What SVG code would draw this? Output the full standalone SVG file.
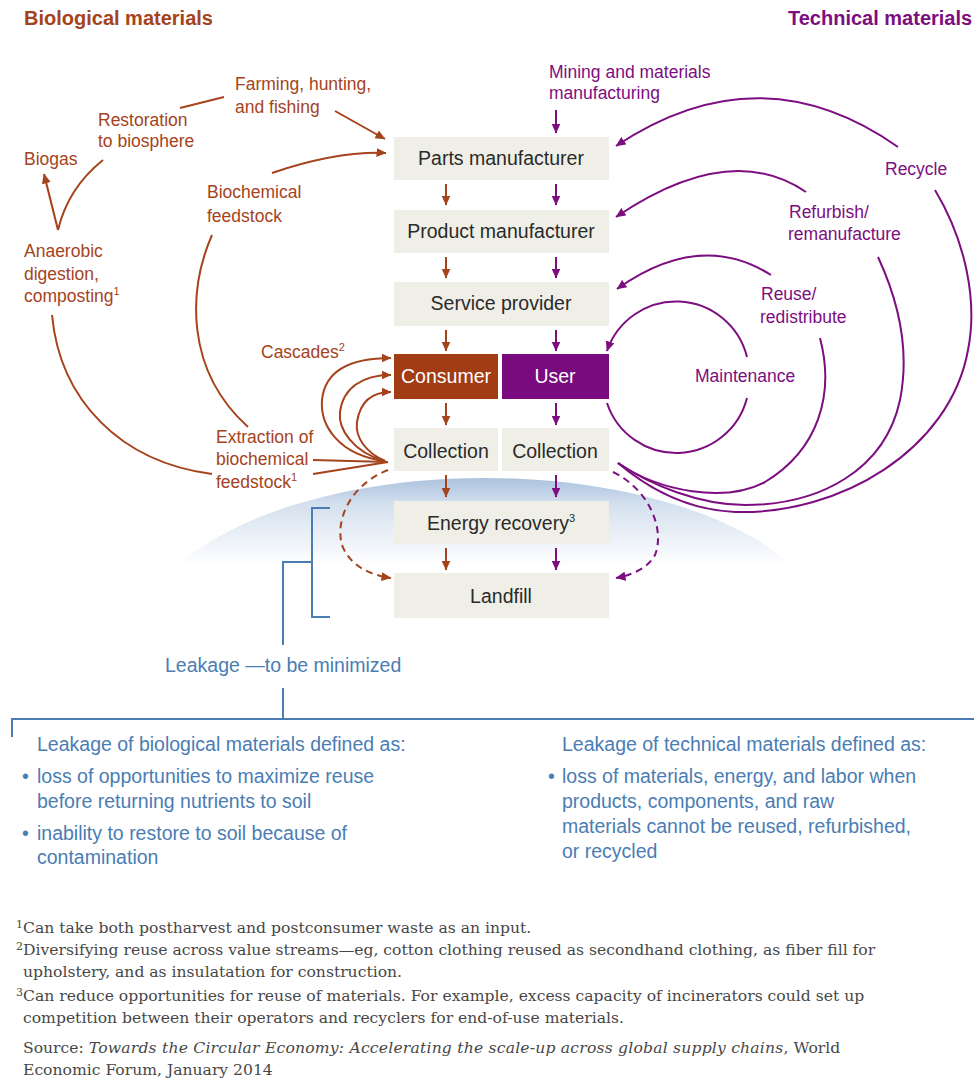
<svg xmlns="http://www.w3.org/2000/svg" width="974" height="1079" viewBox="0 0 974 1079">
<defs>
<linearGradient id="horizon" x1="0" y1="478" x2="0" y2="565" gradientUnits="userSpaceOnUse">
<stop offset="0" stop-color="#abc2de"/>
<stop offset="0.3" stop-color="#d4e0ee"/>
<stop offset="1" stop-color="#ffffff"/>
</linearGradient>
<marker id="ab" viewBox="0 0 10 10" refX="9.5" refY="5" markerWidth="10" markerHeight="10" markerUnits="userSpaceOnUse" orient="auto"><path d="M0,0.5 L10,5 L0,9.5 z" fill="#a5431c"/></marker>
<marker id="ap" viewBox="0 0 10 10" refX="9.5" refY="5" markerWidth="10" markerHeight="10" markerUnits="userSpaceOnUse" orient="auto"><path d="M0,0.5 L10,5 L0,9.5 z" fill="#7c0e80"/></marker>
<style>
text { font-family: "Liberation Sans", Arial, sans-serif; }
.title { font-size: 20px; font-weight: bold; }
.bio { fill: #a5431c; font-size: 17.5px; }
.tech { fill: #7c0e80; font-size: 17.5px; }
.box { fill: #efefe7; }
.bt { fill: #2a2a2a; font-size: 19.5px; text-anchor: middle; }
.wt { fill: #ffffff; font-size: 19.5px; text-anchor: middle; }
.leak { fill: #4a7db3; font-size: 19.5px; }
.fn { fill: #474747; font-family: "DejaVu Serif", "Liberation Serif", serif; font-size: 15.6px; }
.cb { fill: none; stroke: #a5431c; stroke-width: 2; }
.cp { fill: none; stroke: #7c0e80; stroke-width: 2; }
.cl { fill: none; stroke: #4a7db3; stroke-width: 2; }
.dash { stroke-dasharray: 7 5; }
.sup { font-size: 11px; }
</style>
</defs>
<rect width="974" height="1079" fill="#ffffff"/>
<ellipse cx="485" cy="640" rx="346" ry="162" fill="url(#horizon)"/>

<g id="title-bio"><text class="title" x="24" y="25" fill="#a5431c">Biological materials</text></g>
<g id="title-tech"><text class="title" x="788" y="25" fill="#7c0e80">Technical materials</text></g>

<g id="connectors">
<!-- biological side -->
<path class="cb" d="M180,108 L224,97"/>
<path class="cb" d="M335,111 L385,139" marker-end="url(#ab)"/>
<path class="cb" d="M272,173 Q337,151 386,153" marker-end="url(#ab)"/>
<path class="cb" d="M103,160 Q68,188 58,230"/>
<path class="cb" d="M58,230 L44,174" marker-end="url(#ab)"/>
<path class="cb" d="M52,315 C60,400 120,462 212,474"/>
<path class="cb" d="M212,235 C188,290 185,370 248,427"/>
<path class="cb" d="M313,460 L388,462"/>
<path class="cb" d="M313,474 L388,462"/>
<path class="cb" d="M385,461 C338,455 320,425 322,400 C325,370 350,358 391,358" marker-end="url(#ab)"/>
<path class="cb" d="M385,461 C352,452 338,428 340,412 C343,388 362,375 391,375" marker-end="url(#ab)"/>
<path class="cb" d="M385,461 C365,452 355,437 357,422 C360,402 372,392 391,392" marker-end="url(#ab)"/>
<path class="cb dash" d="M388,470 C350,485 335,520 342,545 C350,566 370,575 391,578" marker-end="url(#ab)"/>
<!-- vertical flow arrows -->
<line class="cb" x1="446" y1="184" x2="446" y2="205" marker-end="url(#ab)"/>
<line class="cb" x1="446" y1="257" x2="446" y2="278" marker-end="url(#ab)"/>
<line class="cb" x1="446" y1="330" x2="446" y2="351" marker-end="url(#ab)"/>
<line class="cb" x1="446" y1="403" x2="446" y2="425" marker-end="url(#ab)"/>
<line class="cb" x1="446" y1="475" x2="446" y2="497" marker-end="url(#ab)"/>
<line class="cb" x1="446" y1="548" x2="446" y2="570" marker-end="url(#ab)"/>
<line class="cp" x1="556" y1="110" x2="556" y2="133" marker-end="url(#ap)"/>
<line class="cp" x1="556" y1="184" x2="556" y2="205" marker-end="url(#ap)"/>
<line class="cp" x1="556" y1="257" x2="556" y2="278" marker-end="url(#ap)"/>
<line class="cp" x1="556" y1="330" x2="556" y2="351" marker-end="url(#ap)"/>
<line class="cp" x1="556" y1="403" x2="556" y2="425" marker-end="url(#ap)"/>
<line class="cp" x1="556" y1="475" x2="556" y2="497" marker-end="url(#ap)"/>
<line class="cp" x1="556" y1="548" x2="556" y2="570" marker-end="url(#ap)"/>
<!-- technical side -->
<path class="cp" d="M898,147 Q760,50 616,146" marker-end="url(#ap)"/>
<path class="cp" d="M806,192 Q730,140 616,217" marker-end="url(#ap)"/>
<path class="cp" d="M771,275 Q700,230 617,289" marker-end="url(#ap)"/>
<path class="cp" d="M747,357 A73,73 0 0 0 607,351" marker-end="url(#ap)"/>
<path class="cp" d="M607,403 A73,73 0 0 0 747,398"/>
<path class="cp" d="M820,338 C835,395 818,450 765,482 C725,503 660,492 618,463"/>
<path class="cp" d="M878,257 C898,300 910,350 900,400 C885,470 820,505 745,505 C700,505 650,485 618,463"/>
<path class="cp" d="M935,190 C965,240 978,300 968,350 C950,450 840,515 735,512 C690,510 650,490 618,463"/>
<path class="cp dash" d="M613,472 C650,490 665,530 655,555 C648,568 632,575 616,578" marker-end="url(#ap)"/>
<!-- leakage bracket -->
<path class="cl" d="M330,508 L312,508 L312,617 L330,617"/>
<path class="cl" d="M312,562 L283,562 L283,645"/>
<path class="cl" d="M283,688 L283,719"/>
<path class="cl" d="M12,737 L12,719 L974,719"/>
</g>

<g id="n-parts"><rect class="box" x="394" y="137" width="215" height="43"/><text class="bt" x="501" y="165">Parts manufacturer</text></g>
<g id="n-product"><rect class="box" x="394" y="210" width="215" height="43"/><text class="bt" x="501" y="238">Product manufacturer</text></g>
<g id="n-service"><rect class="box" x="394" y="282" width="215" height="44"/><text class="bt" x="501" y="310">Service provider</text></g>
<g id="n-consumer"><rect x="394" y="354" width="104" height="45" fill="#a23c15"/><text class="wt" x="446" y="383">Consumer</text></g>
<g id="n-user"><rect x="502" y="354" width="107" height="45" fill="#7a0b7e"/><text class="wt" x="555" y="383">User</text></g>
<g id="n-collection-bio"><rect class="box" x="394" y="428" width="104" height="43"/><text class="bt" x="446" y="458">Collection</text></g>
<g id="n-collection-tech"><rect class="box" x="502" y="428" width="107" height="43"/><text class="bt" x="555" y="458">Collection</text></g>
<g id="n-energy"><rect class="box" x="394" y="501" width="215" height="43"/><text class="bt" x="501" y="530">Energy recovery<tspan class="sup" dy="-8">3</tspan></text></g>
<g id="n-landfill"><rect class="box" x="394" y="573" width="215" height="45"/><text class="bt" x="501" y="603">Landfill</text></g>

<g id="l-farming"><text class="bio" x="235" y="90">Farming, hunting,</text><text class="bio" x="235" y="113">and fishing</text></g>
<g id="l-restoration"><text class="bio" x="98" y="126">Restoration</text><text class="bio" x="98" y="147">to biosphere</text></g>
<g id="l-biogas"><text class="bio" x="24" y="165">Biogas</text></g>
<g id="l-biochem"><text class="bio" x="207" y="198">Biochemical</text><text class="bio" x="207" y="222">feedstock</text></g>
<g id="l-anaerobic"><text class="bio" x="24" y="257">Anaerobic</text><text class="bio" x="24" y="280">digestion,</text><text class="bio" x="24" y="302">composting<tspan class="sup" dy="-7">1</tspan></text></g>
<g id="l-cascades"><text class="bio" x="261" y="358">Cascades<tspan class="sup" dy="-7">2</tspan></text></g>
<g id="l-extraction"><text class="bio" x="216" y="443">Extraction of</text><text class="bio" x="216" y="465">biochemical</text><text class="bio" x="216" y="488">feedstock<tspan class="sup" dy="-7">1</tspan></text></g>

<g id="l-mining"><text class="tech" x="549" y="78">Mining and materials</text><text class="tech" x="549" y="99">manufacturing</text></g>
<g id="l-recycle"><text class="tech" x="885" y="175">Recycle</text></g>
<g id="l-refurbish"><text class="tech" x="789" y="218">Refurbish/</text><text class="tech" x="788" y="240">remanufacture</text></g>
<g id="l-reuse"><text class="tech" x="761" y="300">Reuse/</text><text class="tech" x="760" y="323">redistribute</text></g>
<g id="l-maintenance"><text class="tech" x="695" y="382">Maintenance</text></g>

<g id="l-leakage"><text class="leak" x="165" y="672">Leakage —to be minimized</text></g>
<g id="leak-bio">
<text class="leak" x="37" y="751">Leakage of biological materials defined as:</text>
<text class="leak" x="22" y="783">•</text><text class="leak" x="37" y="783">loss of opportunities to maximize reuse</text>
<text class="leak" x="37" y="808">before returning nutrients to soil</text>
<text class="leak" x="22" y="840">•</text><text class="leak" x="37" y="840">inability to restore to soil because of</text>
<text class="leak" x="37" y="864">contamination</text>
</g>
<g id="leak-tech">
<text class="leak" x="562" y="751">Leakage of technical materials defined as:</text>
<text class="leak" x="548" y="783">•</text><text class="leak" x="562" y="783">loss of materials, energy, and labor when</text>
<text class="leak" x="562" y="808">products, components, and raw</text>
<text class="leak" x="562" y="833">materials cannot be reused, refurbished,</text>
<text class="leak" x="562" y="858">or recycled</text>
</g>

<g id="footnotes">
<text class="fn" x="16" y="933"><tspan class="sup" dy="-5">1</tspan><tspan dy="5">Can take both postharvest and postconsumer waste as an input.</tspan></text>
<text class="fn" x="16" y="955"><tspan class="sup" dy="-5">2</tspan><tspan dy="5">Diversifying reuse across value streams—eg, cotton clothing reused as secondhand clothing, as fiber fill for</tspan></text>
<text class="fn" x="23" y="977">upholstery, and as insulatation for construction.</text>
<text class="fn" x="16" y="1001"><tspan class="sup" dy="-5">3</tspan><tspan dy="5">Can reduce opportunities for reuse of materials. For example, excess capacity of incinerators could set up</tspan></text>
<text class="fn" x="23" y="1023">competition between their operators and recyclers for end-of-use materials.</text>
<text class="fn" x="23" y="1053" fill="#555">Source: <tspan font-style="italic" letter-spacing="0.2">Towards the Circular Economy: Accelerating the scale-up across global supply chains</tspan>, World</text>
<text class="fn" x="23" y="1075" fill="#555">Economic Forum, January 2014</text>
</g>
</svg>
